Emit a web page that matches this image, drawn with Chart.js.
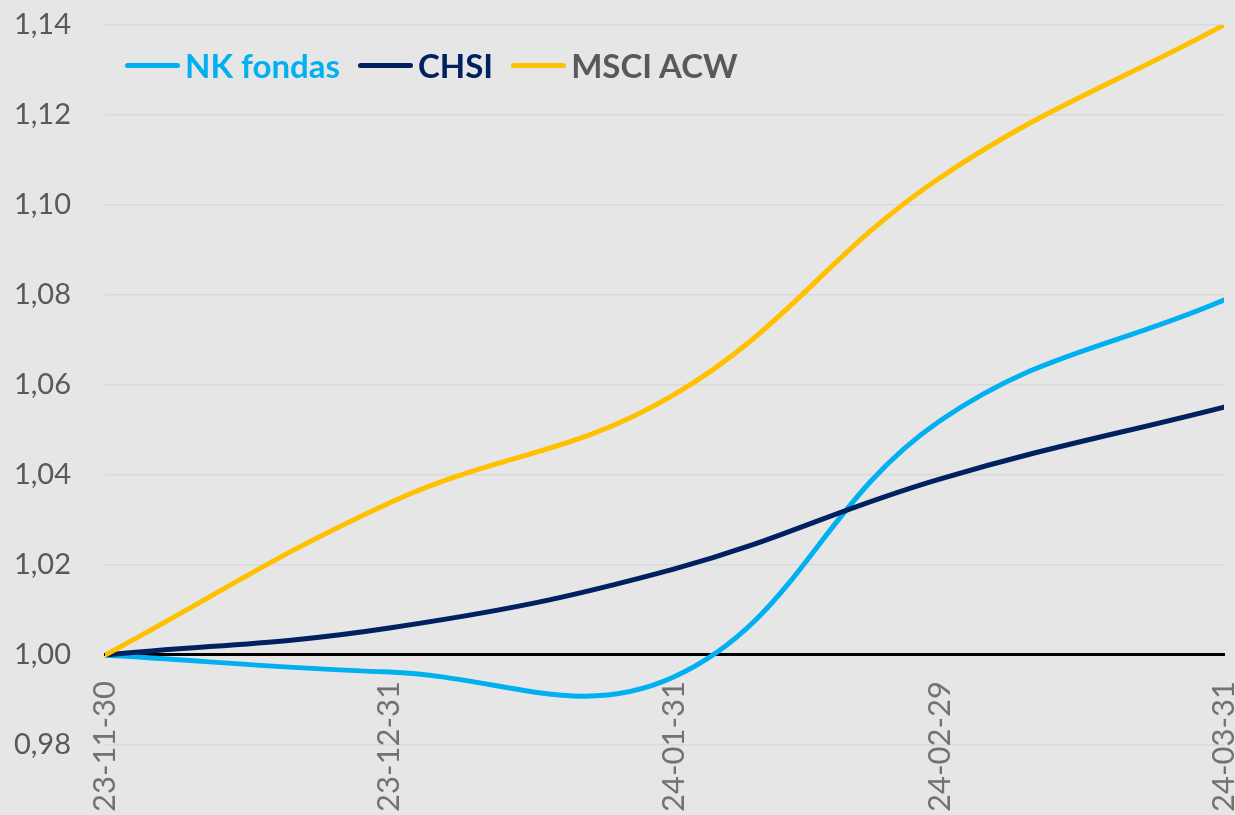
<!DOCTYPE html>
<html>
<head>
<meta charset="utf-8">
<script src="https://cdn.jsdelivr.net/npm/chart.js@4"></script>
<style>
  html, body { margin: 0; padding: 0; background: #e7e6e6; }
  .chart-box { width: 1235px; height: 815px; position: relative; }
  .chart-legend {
    position: absolute;
    left: 125px;
    top: 45px;
    height: 40px;
    display: flex;
    align-items: center;
    font-family: Lato, sans-serif;
    font-weight: bold;
    font-size: 33px;
    white-space: nowrap;
  }
  .legend-item { display: flex; align-items: center; margin-right: 18px; }
  .legend-line { width: 55px; height: 5px; border-radius: 3px; margin-right: 5px; }
</style>
</head>
<body>
<div class="chart-box">
  <canvas id="chart"></canvas>
  <div class="chart-legend" id="legend"></div>
</div>
<script>
const dates = ["2023-11-30", "2023-12-31", "2024-01-31", "2024-02-29", "2024-03-31"];
const tickLabels = ["23-11-30", "23-12-31", "24-01-31", "24-02-29", "24-03-31"];
const nkFondas = [1.0, 0.9962, 0.9951, 1.0520, 1.0789];
const chsi = [1.0, 1.0060, 1.0191, 1.0391, 1.0551];
const msciAcw = [1.0, 1.0338, 1.0578, 1.1060, 1.1400];
const yTicks = [0.98, 1.00, 1.02, 1.04, 1.06, 1.08, 1.10, 1.12, 1.14];
const seriesNames = ["NK fondas", "CHSI", "MSCI ACW"];
const seriesColors = ["#00b0f0", "#002060", "#ffc000"];
const legendTextColors = ["#00b0f0", "#002060", "#595959"];

// dienos nuo pirmos datos (laiko ašis)
const day0 = Date.parse(dates[0]);
const days = dates.map((d) => Math.round((Date.parse(d) - day0) / 86400000));

function toPoints(values) {
  return values.map((v, i) => ({ x: days[i], y: v }));
}

const seriesValues = [nkFondas, chsi, msciAcw];
const datasets = seriesValues.map((vals, i) => ({
  label: seriesNames[i],
  data: toPoints(vals),
  borderColor: seriesColors[i],
  backgroundColor: seriesColors[i],
  borderWidth: 5,
  borderCapStyle: "round",
  pointRadius: 0,
  fill: false,
  tension: 0.4,
  order: seriesValues.length - 1 - i,
}));

const ctx = document.getElementById("chart").getContext("2d");
const chart = new Chart(ctx, {
  type: "line",
  data: { datasets },
  options: {
    responsive: true,
    maintainAspectRatio: false,
    animation: false,
    layout: { padding: { top: 25, right: 11, bottom: 70, left: 0 } },
    plugins: {
      tooltip: { enabled: false },
      legend: { display: false },
    },
    scales: {
      x: {
        type: "linear",
        position: { y: 1.0 },
        min: days[0],
        max: days[days.length - 1],
        grid: { drawOnChartArea: false, drawTicks: false },
        border: { display: true, color: "#000000", width: 3 },
        afterBuildTicks: (scale) => {
          scale.ticks = days.map((v) => ({ value: v }));
        },
        afterFit: (scale) => {
          scale.paddingLeft = 0;
          scale.paddingRight = 0;
        },
        ticks: {
          autoSkip: false,
          minRotation: 90,
          maxRotation: 90,
          padding: 26,
          color: "#767171",
          font: { family: "Lato", size: 31 },
          callback: (value, index) => tickLabels[index],
        },
      },
      y: {
        min: yTicks[0],
        max: yTicks[yTicks.length - 1],
        grid: { color: "#d9d9d9", lineWidth: 1.5, drawTicks: false },
        border: { display: false },
        afterBuildTicks: (scale) => {
          scale.ticks = yTicks.map((v) => ({ value: v }));
        },
        afterFit: (scale) => {
          scale.width = 105;
          scale.paddingTop = 0;
          scale.paddingBottom = 0;
        },
        ticks: {
          padding: 34,
          color: "#595959",
          font: { family: "Lato", size: 29 },
          callback: (value) => value.toFixed(2).replace(".", ","),
        },
      },
    },
  },
});

// legenda kaip HTML virš grafiko
const legendEl = document.getElementById("legend");
chart.data.datasets.forEach((ds, i) => {
  const item = document.createElement("div");
  item.className = "legend-item";
  item.innerHTML = `<span class="legend-line" style="background:${ds.borderColor}"></span>` +
    `<span style="color:${legendTextColors[i]}">${ds.label}</span>`;
  legendEl.appendChild(item);
});
</script>
</body>
</html>
